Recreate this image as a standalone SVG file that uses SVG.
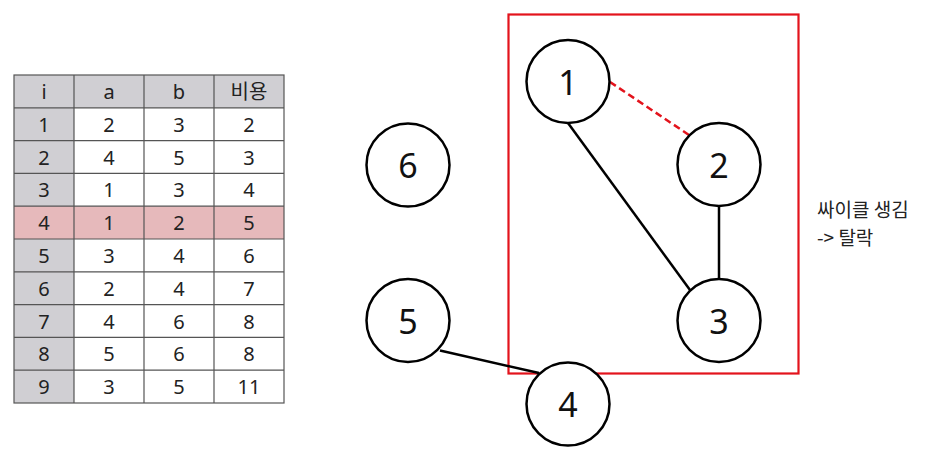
<svg xmlns="http://www.w3.org/2000/svg" width="936" height="456" viewBox="0 0 936 456">
<style>
.t{font-family:"Noto Sans","Noto Sans CJK KR","Liberation Sans",sans-serif;font-size:20px;fill:#222;text-anchor:middle;dominant-baseline:central}
.n{font-family:"Noto Sans","Liberation Sans",sans-serif;font-size:34px;fill:#111;text-anchor:middle;dominant-baseline:central}
.c{fill:#fff;stroke:#000;stroke-width:2.5}
.g{fill:#d0cfd3}
.grid{stroke:#555;stroke-width:1.2;fill:none}
.e{stroke:#000;stroke-width:2.5;fill:none}
.note{font-family:"Noto Sans CJK KR","Noto Sans",sans-serif;font-size:19px;fill:#222}
</style>
<rect width="936" height="456" fill="#fff"/>
<g id="table">
<rect x="14" y="75" width="270" height="32.8" class="g"/>
<rect x="14" y="107.8" width="60" height="295.2" class="g"/>
<rect x="14" y="206.2" width="270" height="32.8" fill="#e6b9bb"/>
<g class="grid">
<rect x="14" y="75" width="270" height="328"/>
<path d="M74 75V403M144 75V403M214 75V403"/>
<path d="M14 107.8H284M14 140.6H284M14 173.4H284M14 206.2H284M14 239H284M14 271.8H284M14 304.6H284M14 337.4H284M14 370.2H284"/>
</g>
<g class="t">
<text x="44" y="91.4">i</text><text x="109" y="91.4">a</text><text x="179" y="91.4">b</text><text x="249" y="91.4">비용</text>
<text x="44" y="124.2">1</text><text x="109" y="124.2">2</text><text x="179" y="124.2">3</text><text x="249" y="124.2">2</text>
<text x="44" y="157">2</text><text x="109" y="157">4</text><text x="179" y="157">5</text><text x="249" y="157">3</text>
<text x="44" y="189.8">3</text><text x="109" y="189.8">1</text><text x="179" y="189.8">3</text><text x="249" y="189.8">4</text>
<text x="44" y="222.6">4</text><text x="109" y="222.6">1</text><text x="179" y="222.6">2</text><text x="249" y="222.6">5</text>
<text x="44" y="255.4">5</text><text x="109" y="255.4">3</text><text x="179" y="255.4">4</text><text x="249" y="255.4">6</text>
<text x="44" y="288.2">6</text><text x="109" y="288.2">2</text><text x="179" y="288.2">4</text><text x="249" y="288.2">7</text>
<text x="44" y="321">7</text><text x="109" y="321">4</text><text x="179" y="321">6</text><text x="249" y="321">8</text>
<text x="44" y="353.8">8</text><text x="109" y="353.8">5</text><text x="179" y="353.8">6</text><text x="249" y="353.8">8</text>
<text x="44" y="386.6">9</text><text x="109" y="386.6">3</text><text x="179" y="386.6">5</text><text x="249" y="386.6">11</text>
</g>
</g>
<rect id="cycle-box" x="508.5" y="14.5" width="290" height="359" fill="none" stroke="#e3131c" stroke-width="2.2"/>
<g id="connectors">
<line x1="568" y1="123" x2="690" y2="290" class="e"/>
<line x1="719" y1="206" x2="719" y2="279" class="e"/>
<line x1="440" y1="350.5" x2="539" y2="373" class="e"/>
<line x1="610" y1="82" x2="689" y2="135" stroke="#e3131c" stroke-width="2.5" stroke-dasharray="7,4"/>
</g>
<g id="node1"><circle cx="568" cy="81.5" r="41.5" class="c"/><text x="568" y="81.5" class="n">1</text></g>
<g id="node2"><circle cx="719" cy="164.5" r="41.5" class="c"/><text x="719" y="164.5" class="n">2</text></g>
<g id="node3"><circle cx="719" cy="320.5" r="41.5" class="c"/><text x="719" y="320.5" class="n">3</text></g>
<g id="node4"><circle cx="568" cy="404" r="41.5" class="c"/><text x="568" y="404" class="n">4</text></g>
<g id="node5"><circle cx="408" cy="320.5" r="41.5" class="c"/><text x="408" y="320.5" class="n">5</text></g>
<g id="node6"><circle cx="408" cy="165" r="41.5" class="c"/><text x="408" y="165" class="n">6</text></g>
<g id="note">
<text x="817" y="217" class="note">싸이클 생김</text>
<text x="817" y="245" class="note">-&gt; 탈락</text>
</g>
</svg>
